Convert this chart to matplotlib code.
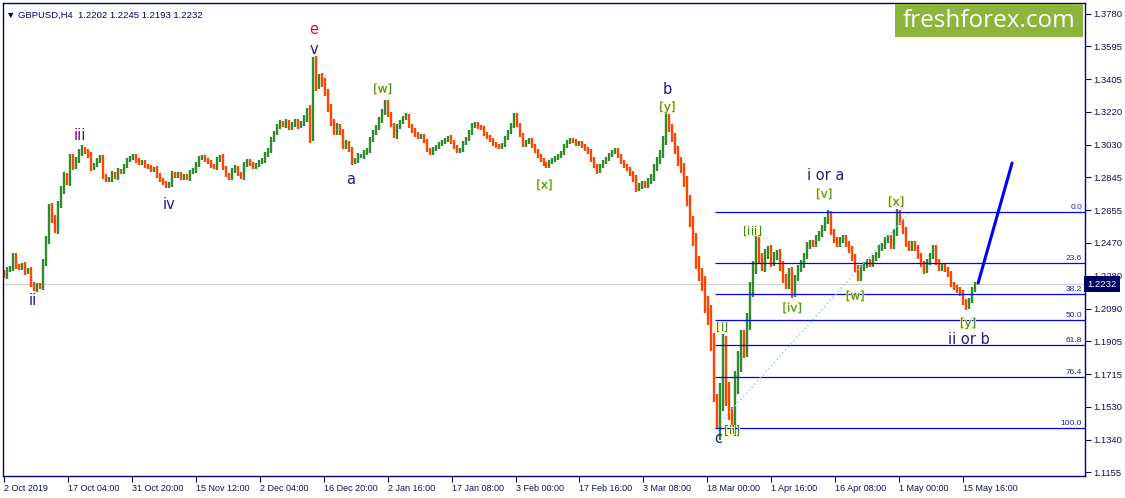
import numpy as np
import matplotlib.pyplot as plt
import matplotlib.patheffects as pe

# GBPUSD H4 closes, one value every 3 bars
closes = [
    1.2279, 1.2313, 1.2325, 1.2393, 1.2336, 1.2325, 1.2342, 1.2302, 1.2313, 1.2233,
    1.2204, 1.2227, 1.2216, 1.2359, 1.2485, 1.2668, 1.2611, 1.2542, 1.2686, 1.2772,
    1.2852, 1.2817, 1.2955, 1.2909, 1.2943, 1.2989, 1.3006, 1.2989, 1.2972, 1.2898,
    1.2915, 1.2943, 1.2955, 1.2852, 1.2829, 1.2835, 1.2863, 1.2846, 1.2880, 1.2875,
    1.2909, 1.2943, 1.2955, 1.2966, 1.2943, 1.2926, 1.2932, 1.2909, 1.2903, 1.2886,
    1.2892, 1.2858, 1.2829, 1.2812, 1.2795, 1.2806, 1.2863, 1.2852, 1.2863, 1.2840,
    1.2852, 1.2840, 1.2875, 1.2886, 1.2915, 1.2955, 1.2961, 1.2943, 1.2932, 1.2909,
    1.2903, 1.2943, 1.2961, 1.2898, 1.2858, 1.2840, 1.2886, 1.2898, 1.2863, 1.2846,
    1.2915, 1.2938, 1.2921, 1.2903, 1.2915, 1.2932, 1.2943, 1.2972, 1.3001, 1.3058,
    1.3098, 1.3138, 1.3155, 1.3144, 1.3161, 1.3127, 1.3150, 1.3161, 1.3138, 1.3155,
    1.3184, 1.3219, 1.3081, 1.3505, 1.3373, 1.3413, 1.3390, 1.3333, 1.3241, 1.3161,
    1.3104, 1.3133, 1.3104, 1.3024, 1.3041, 1.3001, 1.2932, 1.2943, 1.2966, 1.2966,
    1.2984, 1.3001, 1.3058, 1.3104, 1.3127, 1.3173, 1.3219, 1.3270, 1.3207, 1.3144,
    1.3081, 1.3133, 1.3161, 1.3184, 1.3196, 1.3138, 1.3110, 1.3092, 1.3075, 1.3081,
    1.3052, 1.3001, 1.2984, 1.3006, 1.3018, 1.3035, 1.3047, 1.3058, 1.3070, 1.3047,
    1.3018, 1.2995, 1.3001, 1.3041, 1.3064, 1.3104, 1.3138, 1.3150, 1.3133, 1.3127,
    1.3092, 1.3075, 1.3058, 1.3035, 1.3024, 1.3018, 1.3029, 1.3070, 1.3104, 1.3144,
    1.3196, 1.3144, 1.3087, 1.3029, 1.3047, 1.3058, 1.3024, 1.2995, 1.2966, 1.2943,
    1.2921, 1.2909, 1.2932, 1.2943, 1.2955, 1.2966, 1.2984, 1.3024, 1.3047, 1.3058,
    1.3052, 1.3035, 1.3041, 1.3024, 1.3006, 1.2989, 1.2949, 1.2909, 1.2880, 1.2909,
    1.2932, 1.2949, 1.2972, 1.2989, 1.3001, 1.2966, 1.2932, 1.2909, 1.2892, 1.2863,
    1.2835, 1.2783, 1.2795, 1.2806, 1.2800, 1.2823, 1.2846, 1.2898, 1.2943, 1.2978,
    1.3058, 1.3184, 1.3127, 1.3070, 1.3001, 1.2932, 1.2898, 1.2817, 1.2714, 1.2588,
    1.2485, 1.2359, 1.2284, 1.2233, 1.2113, 1.2050, 1.1912, 1.1597, 1.1412, 1.1597,
    1.1855, 1.1614, 1.1511, 1.1430, 1.1666, 1.1786, 1.1912, 1.1866, 1.2015, 1.2199,
    1.2325, 1.2474, 1.2382, 1.2336, 1.2399, 1.2428, 1.2359, 1.2393, 1.2405, 1.2336,
    1.2267, 1.2227, 1.2302, 1.2181, 1.2267, 1.2325, 1.2347, 1.2393, 1.2456, 1.2468,
    1.2462, 1.2497, 1.2519, 1.2554, 1.2600, 1.2634, 1.2531, 1.2485, 1.2462, 1.2485,
    1.2497, 1.2462, 1.2428, 1.2382, 1.2325, 1.2267, 1.2325, 1.2342, 1.2359, 1.2347,
    1.2382, 1.2399, 1.2439, 1.2451, 1.2485, 1.2497, 1.2451, 1.2531, 1.2640, 1.2588,
    1.2542, 1.2462, 1.2439, 1.2462, 1.2439, 1.2393, 1.2347, 1.2313, 1.2359, 1.2393,
    1.2439, 1.2359, 1.2325, 1.2336, 1.2313, 1.2290, 1.2233, 1.2210, 1.2199, 1.2181,
    1.2130, 1.2101, 1.2141, 1.2199, 1.2232,
]
# estimated shadow length of each bar group, in pips
wick_pips = [
    14, 18, 12, 20, 15, 12, 14, 16, 12, 15,
    12, 14, 10, 20, 25, 22, 28, 18, 24, 20,
    22, 18, 25, 20, 16, 18, 22, 14, 16, 20,
    14, 12, 18, 16, 14, 12, 15, 13, 16, 12,
    12, 14, 10, 12, 14, 11, 13, 12, 10, 14,
    12, 15, 13, 11, 14, 12, 16, 12, 10, 13,
    11, 12, 14, 13, 15, 12, 10, 12, 14, 11,
    13, 15, 12, 14, 12, 11, 13, 15, 12, 14,
    16, 12, 14, 13, 11, 12, 14, 16, 13, 15,
    14, 12, 16, 13, 15, 12, 14, 16, 18, 14,
    18, 22, 40, 30, 35, 25, 28, 22, 20, 24,
    18, 20, 16, 18, 15, 14, 16, 13, 15, 12,
    14, 12, 15, 13, 16, 14, 18, 15, 16, 14,
    12, 15, 13, 11, 14, 12, 13, 15, 12, 11,
    13, 14, 12, 11, 10, 12, 13, 11, 12, 14,
    12, 13, 11, 14, 12, 13, 15, 12, 11, 13,
    12, 10, 13, 12, 14, 11, 12, 13, 12, 14,
    16, 14, 12, 13, 11, 12, 14, 12, 11, 13,
    12, 11, 13, 12, 10, 12, 11, 13, 12, 11,
    13, 12, 11, 14, 12, 13, 15, 12, 14, 13,
    12, 11, 13, 12, 14, 13, 12, 11, 13, 14,
    16, 20, 18, 15, 17, 16, 18, 20, 18, 22,
    24, 28, 25, 22, 26, 24, 28, 30, 34, 30,
    36, 40, 35, 38, 45, 50, 60, 40, 8, 70,
    90, 80, 60, 15, 70, 65, 60, 55, 50, 45,
    40, 35, 30, 28, 32, 25, 28, 24, 22, 26,
    28, 24, 22, 26, 20, 18, 22, 20, 18, 20,
    18, 16, 20, 17, 18, 22, 20, 18, 16, 18,
    17, 16, 18, 20, 22, 18, 16, 17, 18, 16,
    15, 17, 16, 18, 15, 16, 18, 20, 22, 18,
    20, 18, 16, 17, 15, 16, 18, 20, 16, 17,
    18, 16, 15, 17, 14, 16, 15, 14, 16, 15,
    16, 18, 14, 15, 12,
]
first_open = 1.2300
last_close = 1.2232

# Fibonacci grid (c low -> [v] high)
fib_low, fib_high = 1.1409, 1.2647
fib_levels = [0.0, 23.6, 38.2, 50.0, 61.8, 76.4, 100.0]

# forecast line
arrow_bars = [975, 1009]
arrow_prices = [1.2238, 1.2926]

yticks = [1.3780, 1.3595, 1.3405, 1.3220, 1.3030, 1.2845, 1.2655, 1.2470,
          1.2280, 1.2090, 1.1905, 1.1715, 1.1530, 1.1340, 1.1155]
xtick_labels = ['2 Oct 2019', '17 Oct 04:00', '31 Oct 20:00', '15 Nov 12:00',
                '2 Dec 04:00', '16 Dec 20:00', '2 Jan 16:00', '17 Jan 08:00',
                '3 Feb 00:00', '17 Feb 16:00', '3 Mar 08:00', '18 Mar 00:00',
                '1 Apr 16:00', '16 Apr 08:00', '1 May 00:00', '15 May 16:00']
xtick_bars = np.arange(len(xtick_labels)) * 64

# wave labels: text, bar, price, colour
wave_main = [
    ('e', 310, 1.3690, 'red'), ('v', 310, 1.3578, '#1a1a8c'),
    ('iii', 76, 1.3082, '#800080'), ('ii', 29, 1.2140, '#1a1a8c'),
    ('iv', 165, 1.2686, '#1a1a8c'), ('a', 347, 1.2829, '#1a1a8c'),
    ('b', 664, 1.3345, '#1a1a8c'), ('c', 715, 1.1345, '#1a1a8c'),
    ('i or a', 822, 1.2852, '#2a1a7a'), ('ii or b', 966, 1.1917, '#2a1a7a'),
]
wave_minor = [
    ('[w]', 379, 1.3350), ('[x]', 541, 1.2800), ('[y]', 664, 1.3247),
    ('[i]', 719, 1.1986), ('[ii]', 729, 1.1392), ('[iii]', 749, 1.2536),
    ('[iv]', 789, 1.2095), ('[v]', 821, 1.2748), ('[w]', 852, 1.2164),
    ('[x]', 893, 1.2703), ('[y]', 965, 1.2009),
]

navy = '#000080'
tick_font = 'Liberation Sans'
fig = plt.figure(figsize=(11.25, 4.98), dpi=100)
ax = fig.add_axes([3 / 1125, 22 / 498, 1082 / 1125, 473 / 498])

# candles
step = 3
x = np.arange(len(closes)) * step
c = np.array(closes)
o = np.r_[first_open, c[:-1]]
w = np.array(wick_pips) / 10000
cols = np.where(c >= o, '#2e8b2e', '#ff4500')
ax.vlines(x, np.minimum(o, c) - w, np.maximum(o, c) + w, colors=cols,
          linewidth=1.7)

# current price line
ax.axhline(last_close, color='#cfcfcf', linewidth=0.8, zorder=0)

# fibo
rng = fib_high - fib_low
for lvl in fib_levels:
    p = fib_high - rng * lvl / 100
    ax.hlines(p, 712, 1082, color='#0000ff', linewidth=0.9)
    ax.text(1079, p + 0.0006, f'{lvl:.1f}', color='#2020a0', fontsize=6,
            family=tick_font, ha='right', va='bottom')
ax.plot([712, 907], [fib_low, fib_high], color='#80d0e0', linewidth=1.0,
        linestyle=(0, (1, 2)))

ax.plot(arrow_bars, arrow_prices, color='#0000ff', linewidth=2.2,
        solid_capstyle='round')

for txt, bx, py, col in wave_main:
    ax.text(bx, py, txt, color=col, fontsize=10.5, ha='center', va='center')
for txt, bx, py in wave_minor:
    ax.text(bx, py, txt, color='#3a8a2a', fontsize=8.5, ha='center', va='center',
            path_effects=[pe.withStroke(linewidth=1.0, foreground='#f0f090')])

ax.text(2, 1.3780 - 0.0005, '\u25bc GBPUSD,H4  1.2202 1.2245 1.2193 1.2232',
        color=navy, fontsize=6.8, family=[tick_font, 'DejaVu Sans'],
        va='center', ha='left')

# logo
ax.add_patch(plt.Rectangle((0.8244, 0.928), 0.1736, 0.070, transform=ax.transAxes,
                           fc='#8db53c', ec='none', zorder=5))
ax.text(0.911, 0.963, 'freshforex.com', transform=ax.transAxes, ha='center',
        va='center', fontsize=17.5, color='white', family='Open Sans', zorder=6)

ax.set_xlim(-1, 1082)
ax.set_ylim(1.1133, 1.3843)
ax.yaxis.tick_right()
ax.set_yticks(yticks)
ax.set_yticklabels([f'{v:.4f}' for v in yticks], family=tick_font)
ax.set_xticks(xtick_bars)
ax.set_xticklabels(xtick_labels, ha='left', family=tick_font)
ax.tick_params(colors=navy, labelcolor='#10105a', labelsize=6.5, length=4,
               width=0.8, direction='out', pad=2)
ax.tick_params(axis='y', labelsize=6.8)
for s in ax.spines.values():
    s.set_color(navy)
    s.set_linewidth(1)

# current price tag
ax.text(1.0025, last_close, f'{last_close:.4f}', transform=ax.get_yaxis_transform(),
        color='white', fontsize=6.8, family=tick_font, va='center', ha='left',
        bbox=dict(boxstyle='square,pad=0.35', fc='#000060', ec='none'))

fig.savefig('out.png', dpi=100)
